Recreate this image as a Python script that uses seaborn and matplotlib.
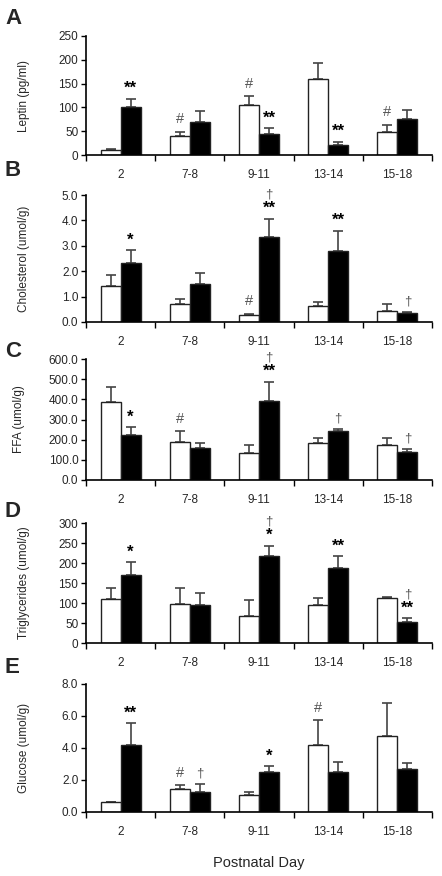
import numpy as np
import pandas as pd
import matplotlib
matplotlib.use("Agg")
import matplotlib.pyplot as plt
import seaborn as sns
from matplotlib.ticker import FixedLocator, MultipleLocator, FormatStrFormatter

# categories / groups
days = ['2', '7-8', '9-11', '13-14', '15-18']
groups = ['Control', 'Treated']

# A - leptin
leptin_ctrl = [10.5, 40.6, 105.7, 160.0, 49.0]
leptin_ctrl_err = [2.0, 8.5, 17.5, 34.0, 15.0]
leptin_trt = [100.0, 70.0, 44.0, 20.0, 75.0]
leptin_trt_err = [18.0, 22.0, 12.0, 8.0, 20.0]
leptin_marks = [(0, 1, ['**']), (1, 0, ['#']), (2, 0, ['#']), (2, 1, ['**']),
                (3, 1, ['**']), (4, 0, ['#'])]

# B - cholesterol
chol_ctrl = [1.41, 0.72, 0.26, 0.64, 0.45]
chol_ctrl_err = [0.45, 0.19, 0.06, 0.14, 0.26]
chol_trt = [2.33, 1.49, 3.34, 2.78, 0.34]
chol_trt_err = [0.49, 0.44, 0.73, 0.81, 0.07]
chol_marks = [(0, 1, ['*']), (2, 0, ['#']), (2, 1, ['**', '†']),
              (3, 1, ['**']), (4, 1, ['†'])]

# C - free fatty acids
ffa_ctrl = [388, 187, 134, 181, 174]
ffa_ctrl_err = [73, 55, 42, 26, 33]
ffa_trt = [222, 161, 394, 242, 141]
ffa_trt_err = [40, 20, 93, 12, 13]
ffa_marks = [(0, 1, ['*']), (1, 0, ['#']), (2, 1, ['**', '†']),
             (3, 1, ['†']), (4, 1, ['†'])]

# D - triglycerides
tg_ctrl = [111, 98, 68, 94, 113]
tg_ctrl_err = [27, 40, 39, 18, 3]
tg_trt = [171, 95, 218, 187, 53]
tg_trt_err = [31, 31, 25, 30, 9]
tg_marks = [(0, 1, ['*']), (2, 1, ['*', '†']), (3, 1, ['**']), (4, 1, ['**', '†'])]

# E - glucose
glu_ctrl = [0.62, 1.43, 1.06, 4.16, 4.76]
glu_ctrl_err = [0.0, 0.23, 0.19, 1.56, 2.08]
glu_trt = [4.16, 1.25, 2.47, 2.47, 2.66]
glu_trt_err = [1.39, 0.52, 0.38, 0.67, 0.38]
glu_marks = [(0, 1, ['**']), (1, 0, ['#']), (1, 1, ['†']), (2, 1, ['*']), (3, 0, ['#'])]

panels = [
    ('A', 'Leptin (pg/ml)', leptin_ctrl, leptin_ctrl_err, leptin_trt, leptin_trt_err, leptin_marks, 250, 50, '%d'),
    ('B', 'Cholesterol (umol/g)', chol_ctrl, chol_ctrl_err, chol_trt, chol_trt_err, chol_marks, 5.0, 1.0, '%.1f'),
    ('C', 'FFA (umol/g)', ffa_ctrl, ffa_ctrl_err, ffa_trt, ffa_trt_err, ffa_marks, 600, 100, '%.1f'),
    ('D', 'Triglycerides (umol/g)', tg_ctrl, tg_ctrl_err, tg_trt, tg_trt_err, tg_marks, 300, 50, '%d'),
    ('E', 'Glucose (umol/g)', glu_ctrl, glu_ctrl_err, glu_trt, glu_trt_err, glu_marks, 8.0, 2.0, '%.1f'),
]

# layout in pixels of the 442x876 figure: (axes top, axes bottom, letter top, ylabel x)
W, H = 442, 876
boxes = [(36, 155, 8, 30), (195, 322, 160, 30), (359, 480, 341, 25),
         (523, 643, 501, 30), (684, 812, 657, 30)]
x0, x1 = 86, 432

sns.set_style('ticks')
plt.rcParams['font.family'] = ['Liberation Sans', 'DejaVu Sans']

fig = plt.figure(figsize=(W / 100, H / 100), dpi=100)

for (letter, ylabel, ctrl, ctrl_err, trt, trt_err, marks, ymax, step, fmt), (top, bot, ltop, ylx) in zip(panels, boxes):
    ax = fig.add_axes([x0 / W, 1 - bot / H, (x1 - x0) / W, (bot - top) / H])
    df = pd.DataFrame({'day': days * 2,
                       'group': [groups[0]] * 5 + [groups[1]] * 5,
                       'value': list(ctrl) + list(trt)})
    sns.barplot(data=df, x='day', y='value', hue='group', order=days, hue_order=groups,
                palette={'Control': 'white', 'Treated': 'black'}, edgecolor='#222222',
                linewidth=1, width=0.58, errorbar=None, legend=False, ax=ax, zorder=2)

    vals = [ctrl, trt]
    errs = [ctrl_err, trt_err]
    centers = []
    for cont, v, e in zip(ax.containers, vals, errs):
        xs = [b.get_x() + b.get_width() / 2 for b in cont]
        centers.append(xs)
        ax.errorbar(xs, v, yerr=[np.zeros(len(v)), e], fmt='none', ecolor='#444444',
                    elinewidth=1.2, capsize=3.5, capthick=1.2, zorder=1)

    for ci, gi, syms in marks:
        xx = centers[gi][ci]
        yy = vals[gi][ci] + errs[gi][ci]
        off = 0
        for s in syms:
            if s.startswith('*'):
                kw = dict(fontsize=12, fontweight='bold', color='black')
                dy = 2
                h = 8
            elif s == '#':
                kw = dict(fontsize=10.5, color='#555555')
                dy = 4
                h = 10
            else:
                kw = dict(fontsize=9.5, color='#555555')
                dy = 3
                h = 10
            ax.annotate(s, (xx, yy), xytext=(0, off + dy), textcoords='offset points',
                        ha='center', va='bottom', annotation_clip=False, **kw)
            off += dy + h

    ax.set_ylim(0, ymax)
    ax.set_xlim(-0.5, 4.5)
    ax.yaxis.set_major_locator(MultipleLocator(step))
    ax.yaxis.set_major_formatter(FormatStrFormatter(fmt))
    ax.xaxis.set_minor_locator(FixedLocator(np.arange(-0.5, 5, 1)))
    ax.tick_params(axis='x', which='major', length=0, pad=10, labelsize=8.5)
    ax.tick_params(axis='x', which='minor', length=4, width=1, direction='out', color='black')
    ax.tick_params(axis='y', length=3.5, width=1, direction='out', labelsize=8.5, pad=2, color='black')
    ax.set_xlabel('')
    ax.set_ylabel(ylabel, fontsize=8.5)
    ax.yaxis.set_label_coords((ylx - x0) / (x1 - x0), 0.5)
    for sp in ['top', 'right']:
        ax.spines[sp].set_visible(False)
    for sp in ['left', 'bottom']:
        ax.spines[sp].set_color('black')
        ax.spines[sp].set_linewidth(1.2)

    fig.text(5 / W, 1 - ltop / H, letter, fontsize=16, fontweight='bold', va='top', ha='left')

fig.text((x0 + x1) / 2 / W, 1 - 863 / H, 'Postnatal Day', fontsize=10.5, ha='center', va='center')

fig.savefig('out.png', dpi=100)
